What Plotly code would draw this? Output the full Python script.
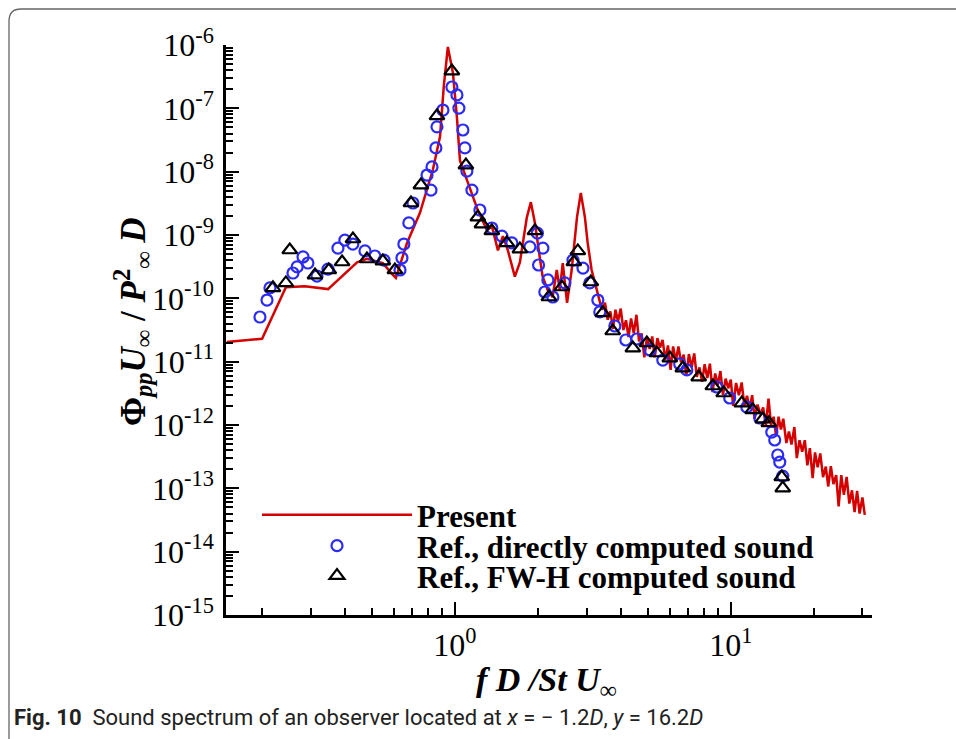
import math
import plotly.graph_objects as go

# ---------------- data ----------------
present_f = [0.149, 0.200, 0.244, 0.286, 0.347, 0.442, 0.480, 0.548, 0.596, 0.611,
             0.670, 0.747, 0.832, 0.883, 0.912, 0.943, 0.984, 1.017, 1.043, 1.133,
             1.211, 1.306, 1.362, 1.432, 1.493, 1.556, 1.649, 1.720, 1.823, 1.885,
             1.95, 2.03, 2.08, 2.17, 2.26, 2.34, 2.40, 2.46, 2.55, 2.65,
             2.77, 2.86, 2.96, 3.03, 3.13, 3.27, 3.41,
             3.50, 3.58, 3.66, 3.74, 3.82, 3.90, 3.99, 4.08, 4.17, 4.26,
             4.35, 4.45, 4.55, 4.65, 4.75, 4.86, 4.97, 5.08, 5.19, 5.30,
             5.42, 5.54, 5.66, 5.79, 5.92, 6.05, 6.18, 6.32, 6.46, 6.60,
             6.75, 6.90, 7.05, 7.21, 7.37, 7.53, 7.70, 7.87, 8.04, 8.22,
             8.40, 8.59, 8.78, 8.97, 9.17, 9.37, 9.58, 9.79, 10.0, 10.2,
             10.45, 10.7, 10.95, 11.2, 11.45, 11.7, 11.95, 12.2, 12.5, 12.8,
             13.1, 13.4, 13.7, 14.0, 14.3, 14.6, 14.9, 15.2, 15.5, 15.9,
             16.25, 16.6, 17.0, 17.35, 17.75, 18.15, 18.55, 18.95, 19.35, 19.8,
             20.2, 20.65, 21.1, 21.6, 22.1, 22.55, 23.05, 23.55, 24.1, 24.6,
             25.15, 25.7, 26.3, 26.9, 27.5, 28.1, 28.7, 29.3, 30.0, 30.6]
present_psd = [2.04e-11, 2.3e-11, 1.5e-10, 1.55e-10, 1.4e-10, 3.7e-10, 4.2e-10, 3.6e-10, 2.35e-10, 2.1e-10,
               7.4e-10, 2.24e-9, 1.07e-8, 3.55e-8, 2.3e-7, 9.3e-7, 3.6e-7, 7.2e-8, 1.5e-8, 5.7e-9,
               2.45e-9, 1.2e-9, 1.38e-9, 5.7e-10, 9.6e-10, 5.7e-10, 2.2e-10, 3.7e-10, 1.9e-9, 3.3e-9,
               1.55e-9, 4.5e-10, 2.2e-10, 1.35e-10, 1.05e-10, 2.8e-10, 1.35e-10, 3.6e-10, 8.5e-11, 2.8e-10,
               1.9e-9, 4.6e-9, 1.9e-9, 7.4e-10, 2.8e-10, 1.35e-10, 6.6e-11,
               8.5e-11, 4.6e-11, 6.2e-11, 3.3e-11, 6.6e-11, 4.3e-11, 6.9e-11, 3.16e-11, 4.5e-11, 2.45e-11,
               4.8e-11, 2.8e-11, 5.5e-11, 2.1e-11, 2.8e-11, 1.17e-11, 2.4e-11, 1.58e-11, 2.5e-11, 1.17e-11,
               2.35e-11, 1.66e-11, 2.2e-11, 1.07e-11, 1.8e-11, 7.4e-12, 1.74e-11, 1.02e-11, 1.74e-11, 9.8e-12,
               1.29e-11, 6.0e-12, 1.32e-11, 8.1e-12, 1.35e-11, 5.75e-12, 8.1e-12, 4.8e-12, 9.1e-12, 5.5e-12,
               9.3e-12, 3.3e-12, 6.5e-12, 4.3e-12, 7.1e-12, 3.0e-12, 5.4e-12, 3.8e-12, 5.2e-12, 2.0e-12,
               4.6e-12, 2.95e-12, 4.7e-12, 2.0e-12, 2.9e-12, 1.78e-12, 2.95e-12, 1.26e-12, 2.1e-12, 1.48e-12,
               1.9e-12, 9.8e-13, 2.6e-12, 1.0e-12, 1.35e-12, 6.6e-13, 1.35e-12, 8.5e-13, 1.26e-12, 5.2e-13,
               7.9e-13, 4.9e-13, 9.3e-13, 3.0e-13, 5.75e-13, 3.8e-13, 5.75e-13, 2.3e-13, 4.3e-13, 1.45e-13,
               3.7e-13, 2.15e-13, 3.55e-13, 1.5e-13, 2.2e-13, 1.07e-13, 2.24e-13, 1.17e-13, 1.62e-13, 5.2e-14,
               1.62e-13, 7.9e-14, 1.51e-13, 5.75e-14, 9.3e-14, 4.2e-14, 9.1e-14, 4.0e-14, 7.2e-14, 3.8e-14]

direct_f = [0.1965, 0.2084, 0.2136, 0.2588, 0.2679, 0.2815, 0.2932, 0.3162, 0.3467, 0.3767,
            0.3992, 0.4266, 0.4721, 0.5129, 0.5534, 0.6324, 0.6427, 0.6531, 0.6808, 0.7047,
            0.7925, 0.8188, 0.8260, 0.8531, 0.8610, 0.9050, 0.9753, 1.017, 1.034, 1.069,
            1.087, 1.105, 1.153, 1.232, 1.361, 1.480, 1.609, 1.870, 1.99, 2.01,
            2.084, 2.118, 2.173, 2.265, 2.504, 2.679, 2.912, 3.084, 3.297, 3.351,
            3.80, 4.165, 4.563, 5.09, 5.67, 6.53, 6.93, 8.9, 9.91, 11.43,
            12.74, 14.08, 14.43, 14.80, 15.05, 15.43]
direct_psd = [5.07e-11, 9.4e-11, 1.46e-10, 2.51e-10, 3.13e-10, 4.5e-10, 3.61e-10, 2.25e-10, 2.9e-10, 6.2e-10,
              8.3e-10, 7.2e-10, 5.6e-10, 4.66e-10, 4.0e-10, 2.8e-10, 4.34e-10, 7.2e-10, 1.55e-9, 3.2e-9,
              8.85e-9, 5.1e-9, 1.19e-8, 2.37e-8, 5.1e-8, 9.4e-8, 2.17e-7, 1.63e-7, 1.01e-7, 4.55e-8,
              2.37e-8, 1.02e-8, 5.1e-9, 2.48e-9, 1.29e-9, 9.6e-10, 7.5e-10, 6.5e-10, 1.07e-9, 3.36e-10,
              6.2e-10, 1.26e-10, 1.95e-10, 1.05e-10, 1.75e-10, 4.0e-10, 3.0e-10, 1.75e-10, 9.4e-11, 6.1e-11,
              3.66e-11, 2.2e-11, 2.28e-11, 1.53e-11, 1.06e-11, 9.2e-12, 7.4e-12, 3.98e-12, 2.67e-12, 1.92e-12,
              1.29e-12, 7.7e-13, 5.8e-13, 3.36e-13, 2.6e-13, 1.56e-13]

fwh_f = [0.219, 0.244, 0.252, 0.311, 0.349, 0.390, 0.427, 0.480, 0.548, 0.606,
         0.693, 0.753, 0.861, 0.975, 1.096, 1.211, 1.253, 1.361, 1.543, 1.720,
         1.950, 2.191, 2.442, 2.698, 2.790, 3.110, 3.436, 3.733, 4.416, 4.963,
         5.395, 6.012, 6.70, 7.65, 8.61, 9.43, 10.96, 12.01, 13.06, 13.74,
         15.30, 15.43]
fwh_psd = [1.46e-10, 1.75e-10, 5.8e-10, 2.33e-10, 2.8e-10, 3.75e-10, 8.65e-10, 4.18e-10, 3.88e-10, 2.8e-10,
           3.2e-9, 6.15e-9, 7.6e-8, 3.88e-7, 1.27e-8, 1.92e-9, 1.49e-9, 1.16e-9, 7.5e-10, 6.0e-10,
           1.16e-9, 1.05e-10, 1.51e-10, 3.75e-10, 5.6e-10, 1.81e-10, 5.9e-11, 3.05e-11, 1.64e-11, 1.97e-11,
           1.37e-11, 1.14e-11, 7.9e-12, 5.7e-12, 4.13e-12, 3.2e-12, 2.22e-12, 1.73e-12, 1.24e-12, 1.08e-12,
           1.51e-13, 1.01e-13]

x_major = [1, 10]
x_major_text = ["10<sup>0</sup>", "10<sup>1</sup>"]
x_minor = [0.2, 0.3, 0.4, 0.5, 0.6, 0.7, 0.8, 0.9, 2, 3, 4, 5, 6, 7, 8, 9, 20, 30]
y_exponents = [-15, -14, -13, -12, -11, -10, -9, -8, -7, -6]
y_major = [10.0 ** e for e in y_exponents]
y_major_text = ["10<sup>%d</sup>" % e for e in y_exponents]
y_minor = [m * 10.0 ** e for e in y_exponents[:-1] for m in range(2, 10)]

legend_names = ["<b>Present</b>", "<b>Ref., directly computed sound</b>", "<b>Ref., FW-H computed sound</b>"]

# ---------------- geometry helpers ----------------
W, H = 956, 739
L_, R_, T_, B_ = 226, 872, 45, 615


def px(x):
    return (x - L_) / (R_ - L_)


def py(y):
    return (B_ - y) / (B_ - T_)


SERIF = "Liberation Serif, Times New Roman, serif"

fig = go.Figure()
fig.add_trace(go.Scatter(x=present_f, y=present_psd, mode="lines", name=legend_names[0],
                         legend="legend",
                         line=dict(color="#d40000", width=2.5)))
fig.add_trace(go.Scatter(x=direct_f, y=direct_psd, mode="markers", name=legend_names[1],
                         legend="legend2",
                         marker=dict(symbol="circle-open", size=11, color="#2b2bf5",
                                     line=dict(width=2.2, color="#2b2bf5"))))
fig.add_trace(go.Scatter(x=fwh_f, y=fwh_psd, mode="markers", name=legend_names[2],
                         legend="legend3",
                         marker=dict(symbol="triangle-up-open", size=13, color="black",
                                     line=dict(width=2.2, color="black"))))

legend_common = dict(xanchor="left", yanchor="middle", bgcolor="rgba(0,0,0,0)",
                     itemwidth=150, font=dict(family=SERIF, size=31, color="black"))

fig.update_layout(
    width=W, height=H,
    margin=dict(l=L_, r=W - R_, t=T_, b=H - B_, pad=0),
    paper_bgcolor="white", plot_bgcolor="white",
    showlegend=True,
    legend=dict(x=px(257), y=py(515), **legend_common),
    legend2=dict(x=px(257), y=py(546), **legend_common),
    legend3=dict(x=px(257), y=py(576), **legend_common),
    xaxis=dict(type="log", range=[math.log10(0.148), math.log10(32.5)],
               showline=True, linecolor="black", linewidth=2.5,
               showgrid=False, zeroline=False, mirror=False,
               ticks="inside", ticklen=13, tickwidth=2, tickcolor="black",
               tickmode="array", tickvals=x_major, ticktext=x_major_text,
               tickfont=dict(family=SERIF, size=32, color="black"),
               ticklabelstandoff=0,
               minor=dict(ticks="inside", ticklen=7, tickwidth=1.5, tickcolor="black",
                          tickmode="array", tickvals=x_minor, showgrid=False)),
    yaxis=dict(type="log", range=[-15, -6],
               showline=True, linecolor="black", linewidth=2.5,
               showgrid=False, zeroline=False, mirror=False,
               ticks="inside", ticklen=13, tickwidth=2, tickcolor="black",
               tickmode="array", tickvals=y_major, ticktext=y_major_text,
               tickfont=dict(family=SERIF, size=32, color="black"),
               ticklabelstandoff=3,
               minor=dict(ticks="inside", ticklen=7, tickwidth=1.5, tickcolor="black",
                          tickmode="array", tickvals=y_minor, showgrid=False)),
)

# axis titles
fig.add_annotation(xref="paper", yref="paper", x=px(546), y=py(682),
                   xanchor="center", yanchor="middle", showarrow=False,
                   text="<b><i>f D /St U</i><sub>∞</sub></b>",
                   font=dict(family=SERIF, size=34, color="black"))
fig.add_annotation(xref="paper", yref="paper", x=px(132), y=py(322),
                   xanchor="center", yanchor="middle", showarrow=False,
                   textangle=-90,
                   text="<b>Φ<sub><i>pp</i></sub><i>U</i><sub>∞</sub> / <i>P</i><sup>2</sup><sub>∞</sub> <i>D</i></b>",
                   font=dict(family=SERIF, size=35, color="black"))

# caption
fig.add_annotation(xref="paper", yref="paper", x=px(12), y=py(718), xanchor="left", yanchor="middle",
                   showarrow=False,
                   text="<b>Fig. 10</b>  Sound spectrum of an observer located at <i>x</i> = − 1.2<i>D</i>, <i>y</i> = 16.2<i>D</i>",
                   font=dict(family="Liberation Sans Narrow, Roboto, sans-serif", size=22, color="#222"))

# frame with rounded corner
r = 12
path = "M {x0},{y0} L {x0},{y1} Q {x0},{y2} {x1},{y2} L {x3},{y2}".format(
    x0=px(9), y0=py(745), y1=py(9 + r), y2=py(9), x1=px(9 + r), x3=px(965))
fig.add_shape(type="path", xref="paper", yref="paper", path=path,
              line=dict(color="#666", width=1.3))

fig.write_html("out.html")
